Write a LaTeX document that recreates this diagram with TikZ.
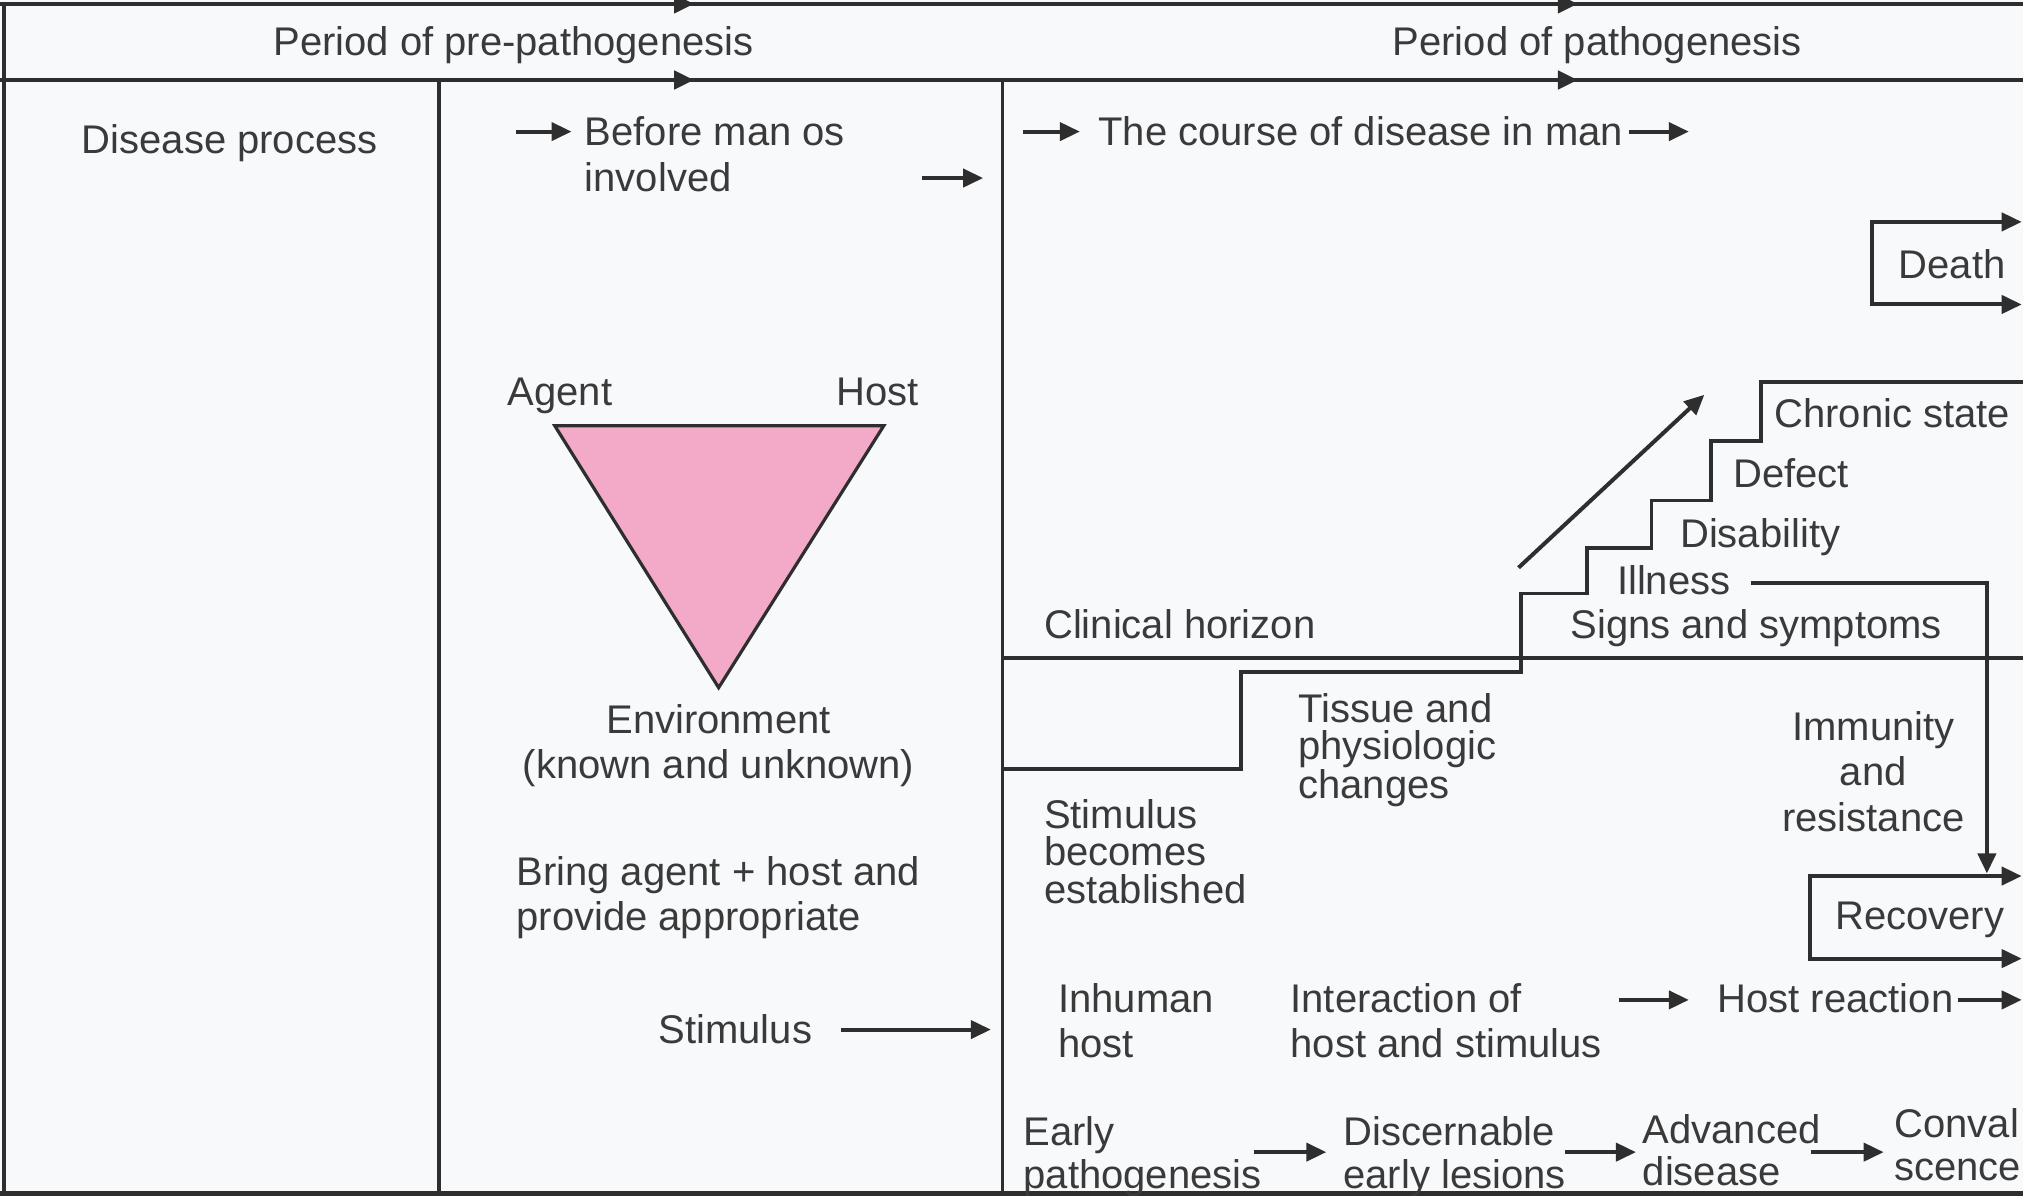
\documentclass[tikz,border=0pt]{standalone}
\usepackage{fontspec}
\setmainfont{Liberation Sans}
\usetikzlibrary{arrows.meta,calc}
\definecolor{ln}{HTML}{2E2E2E}
\definecolor{tc}{HTML}{3A3A3A}
\definecolor{bg}{HTML}{F8F9FB}
\definecolor{pk}{HTML}{F3A9C8}
\begin{document}
\begin{tikzpicture}[x=0.6451pt,y=-0.6451pt,
  txt/.style={inner sep=0pt, text=tc, font=\fontsize{20}{22.6}\selectfont, align=left},
  one/.style={txt, text height=14.3pt, text depth=0pt},
  tight/.style={txt, font=\fontsize{20}{18.6}\selectfont},
  lo/.style={txt, font=\fontsize{20}{21.3}\selectfont},
  frame/.style={draw=ln, line width=2.3pt},
  thin/.style={draw=ln, line width=1.9pt},
  arr/.style={draw=ln, line width=2pt, -{Triangle[length=10pt,width=9pt]}},
  tip/.style={draw=ln, line width=2.3pt, -{Triangle[length=10pt,width=9pt]}}]
\fill[bg] (0,0) rectangle (1568,927);
\useasboundingbox (0,0) rectangle (1568,927);
% frame
\draw[frame] (0,3) -- (1568,3);
\draw[frame] (0,62) -- (1568,62);
\draw[frame] (3,3) -- (3,925);
\draw[frame] (0,925) -- (1568,925);
\draw[thin] (340,62) -- (340,927);
\draw[thin] (777,62) -- (777,927);
\draw[tip] (518,3) -- (538,3);
\draw[tip] (518,62) -- (538,62);
\draw[tip] (1203,3) -- (1223,3);
\draw[tip] (1203,62) -- (1223,62);
% headers
\node[one] (hpre) at (398,32) {Period of pre-pathogenesis};
\node[one] (hpat) at (1238,32) {Period of pathogenesis};
\node[one] (dp) at (178,108) {Disease process};
% pre-pathogenesis column
\node[txt, anchor=west] (bm) at (453,119.5) {Before man os\\involved};
\coordinate (bmin) at (400,102);
\draw[arr] (bmin) -- ($(bm.west)+(-10,-17.5)$);
\coordinate (invs) at (715,138);
\coordinate (inve) at (762,138);
\draw[arr] (invs) -- (inve);
\node[one] (agent) at (434,303) {Agent};
\node[one] (host) at (680,303) {Host};
\coordinate (ta) at (430,330);
\coordinate (th) at (685,330);
\coordinate (te) at (557,533);
\draw[thin, line width=1.6pt, fill=pk] (ta) -- (th) -- (te) -- cycle;
\node[txt, align=center] (env) at (557,578) {Environment\\(known and unknown)};
\node[txt, anchor=west] (bring) at (400,695.5) {Bring agent + host and\\provide appropriate};
\node[one] (stim) at (570,798) {Stimulus};
\coordinate (stimend) at (768,798);
\draw[arr] ($(stim.east)+(22,0)$) -- (stimend);
% pathogenesis column
\node[one, anchor=west] (course) at (851,102) {The course of disease in man};
\coordinate (cin) at (793,102);
\draw[arr] (cin) -- ($(course.west)+(-14,0)$);
\coordinate (cout) at (1309,102);
\draw[arr] ($(course.east)+(4,0)$) -- (cout);
% death
\node[one] (death) at (1513,205) {Death};
\coordinate (dl) at (1451,204);
\coordinate (dt) at (1567,172);
\coordinate (db) at (1567,236);
\draw[arr] (dl) |- (dt);
\draw[arr] (dl) |- (db);
% staircase
\draw[thin] (777,596) -- (962,596) -- (962,521) -- (1179,521) -- (1179,460) -- (1230,460)
  -- (1230,425) -- (1280,425) -- (1280,388) -- (1326,388) -- (1326,342) -- (1365,342)
  -- (1365,296) -- (1568,296);
\coordinate (diag1) at (1177,440);
\coordinate (diag2) at (1321,306);
\draw[arr] (diag1) -- (diag2);
\node[one, anchor=west] (chronic) at (1375,320) {Chronic state};
\node[one, anchor=west] (defect) at (1343,367) {Defect};
\node[one, anchor=west] (disab) at (1302,413) {Disability};
\node[one, anchor=west] (ill) at (1253,450) {Illness};
\node[one, anchor=west] (signs) at (1217,484) {Signs and symptoms};
\node[one, anchor=west] (clin) at (809,484) {Clinical horizon};
\draw[thin] (777,510) -- (1568,510);
\node[tight, anchor=west] (tissue) at (1006,581.5) {Tissue and\\physiologic\\changes};
\node[txt, align=center] (imm) at (1452,598) {Immunity\\and\\resistance};
\node[tight, anchor=west] (sbe) at (809,660) {Stimulus\\becomes\\established};
% recovery
\node[one] (rec) at (1488,709) {Recovery};
\coordinate (rl) at (1403,711);
\coordinate (rt) at (1567,679);
\coordinate (rb) at (1567,743);
\draw[arr] (rl) |- (rt);
\draw[arr] (rl) |- (rb);
\coordinate (recin) at (1540,677);
\draw[arr] ($(ill.east)+(16,2)$) -| (recin);
% host row
\node[txt, anchor=west] (inh) at (820,791) {Inhuman\\host};
\node[txt, anchor=west] (inter) at (1000,791) {Interaction of\\host and stimulus};
\node[one, anchor=west] (hr) at (1331,774) {Host reaction};
\coordinate (hrin) at (1255,775);
\draw[arr] (hrin) -- ($(hr.west)+(-22,1)$);
\coordinate (hrout) at (1567,775);
\draw[arr] ($(hr.east)+(3,1)$) -- (hrout);
% bottom row
\node[lo, anchor=west] (early) at (793,896.5) {Early\\pathogenesis};
\node[lo, anchor=west] (disc) at (1041,896.5) {Discernable\\early lesions};
\node[lo, anchor=west] (adv) at (1273,891.5) {Advanced\\disease};
\node[lo, anchor=west] (conv) at (1468,887) {Conval\\scence};
\coordinate (b1s) at (972,893);
\coordinate (b2s) at (1213,893);
\coordinate (b3s) at (1404,893);
\draw[arr] (b1s) -- ($(b1s -| disc.west)+(-13,0)$);
\draw[arr] (b2s) -- ($(b2s -| adv.west)+(-5,0)$);
\draw[arr] (b3s) -- ($(b3s -| conv.west)+(-8,0)$);
\end{tikzpicture}
\end{document}
